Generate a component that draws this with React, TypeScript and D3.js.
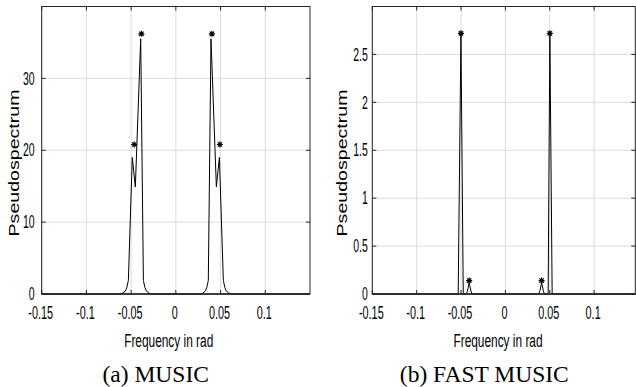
import React from "react";
import * as d3 from "d3";

// ---- data ----
const FREQ_TICKS = [-0.15, -0.1, -0.05, 0, 0.05, 0.1];
const MUSIC_Y_TICKS = [0, 10, 20, 30];
const FAST_Y_TICKS = [0, 0.5, 1, 1.5, 2, 2.5];

const MUSIC_FREQ = [
  -0.15, -0.0624, -0.059, -0.0565, -0.0548, -0.0531, -0.0487, -0.0453, -0.0393, -0.0363, -0.0346, -0.0329, -0.0304, -0.028,
  0.028, 0.0304, 0.0329, 0.0346, 0.0363, 0.0393, 0.0453, 0.0487, 0.0531, 0.0548, 0.0565, 0.059, 0.0624, 0.15,
];
const MUSIC_VALUE = [
  0, 0, 0.15, 0.4, 0.9, 1.9, 19, 14.9, 35.5, 1.9, 0.9, 0.4, 0.15, 0,
  0, 0.15, 0.4, 0.9, 1.9, 35.5, 14.9, 19, 1.9, 0.9, 0.4, 0.15, 0, 0,
];
const MUSIC_PEAK_FREQ = [-0.0466, -0.0385, 0.0403, 0.0492];
const MUSIC_PEAK_VALUE = [20.8, 36.2, 36.2, 20.8];

const FAST_FREQ = [
  -0.15, -0.0532, -0.0501, -0.0475, -0.044, -0.0428, -0.0408, -0.0388, -0.0376,
  0.0376, 0.0388, 0.0408, 0.0428, 0.044, 0.0482, 0.0501, 0.0527, 0.15,
];
const FAST_VALUE = [
  0, 0, 2.71, 0, 0, 0.03, 0.12, 0.03, 0,
  0, 0.03, 0.12, 0.03, 0, 0, 2.71, 0, 0,
];
const FAST_PEAK_FREQ = [-0.0501, -0.0408, 0.0408, 0.0501];
const FAST_PEAK_VALUE = [2.72, 0.14, 0.14, 2.72];

const TICK_FONT = "'Liberation Sans', Arial, Helvetica, sans-serif";
const SERIF = "'Liberation Serif', 'Times New Roman', serif";

type PanelProps = {
  x0: number;
  x1: number;
  xMax: number;
  yMax: number;
  yTicks: number[];
  freq: number[];
  value: number[];
  peakFreq: number[];
  peakValue: number[];
  yLabelGap: number;
  yLabelX: number;
  xLabelX: number;
  caption: string;
  captionX: number;
};

function Panel(p: PanelProps) {
  const top = 6.5;
  const bottom = 294;
  const x = d3.scaleLinear().domain([-0.15, p.xMax]).range([p.x0, p.x1]);
  const y = d3.scaleLinear().domain([0, p.yMax]).range([bottom, top]);
  const pts: [number, number][] = p.freq.map((f, i) => [f, p.value[i]]);
  const line = d3
    .line<[number, number]>()
    .x((d) => x(d[0]))
    .y((d) => y(d[1]));
  const stars = d3.path();
  const r = 3;
  p.peakFreq.forEach((f, i) => {
    const cx = x(f);
    const cy = y(p.peakValue[i]);
    stars.moveTo(cx - r, cy);
    stars.lineTo(cx + r, cy);
    stars.moveTo(cx, cy - r);
    stars.lineTo(cx, cy + r);
    const q = r * 0.72;
    stars.moveTo(cx - q, cy - q);
    stars.lineTo(cx + q, cy + q);
    stars.moveTo(cx - q, cy + q);
    stars.lineTo(cx + q, cy - q);
  });
  const tl = 4;
  const axisColor = "#262626";
  return (
    <g>
      {/* grid */}
      {FREQ_TICKS.map((t) => (
        <line key={"gx" + t} x1={x(t)} x2={x(t)} y1={top} y2={bottom} stroke="#dcdcdc" strokeWidth={1} />
      ))}
      {p.yTicks.map((t) => (
        <line key={"gy" + t} x1={p.x0} x2={p.x1} y1={y(t)} y2={y(t)} stroke="#dcdcdc" strokeWidth={1} />
      ))}
      {/* ticks */}
      {FREQ_TICKS.map((t) => (
        <g key={"tx" + t}>
          <line x1={x(t)} x2={x(t)} y1={bottom} y2={bottom - tl} stroke={axisColor} />
          <line x1={x(t)} x2={x(t)} y1={top} y2={top + tl} stroke={axisColor} />
        </g>
      ))}
      {p.yTicks.map((t) => (
        <g key={"ty" + t}>
          <line x1={p.x0} x2={p.x0 + tl} y1={y(t)} y2={y(t)} stroke={axisColor} />
          <line x1={p.x1} x2={p.x1 - tl} y1={y(t)} y2={y(t)} stroke={axisColor} />
        </g>
      ))}
      {/* curve */}
      <path d={line(pts) || ""} fill="none" stroke="#000" strokeWidth={1} strokeLinejoin="miter" />
      <path d={stars.toString()} fill="none" stroke="#000" strokeWidth={1.2} />
      {/* box */}
      <rect x={p.x0} y={top} width={p.x1 - p.x0} height={bottom - top} fill="none" stroke={axisColor} strokeWidth={1} />
      <line x1={p.x0} x2={p.x1} y1={bottom} y2={bottom} stroke={axisColor} strokeWidth={1.5} />
      {/* tick labels */}
      {FREQ_TICKS.map((t) => (
        <text
          key={"lx" + t}
          transform={`translate(${x(t) - 1},319) scale(0.62,1)`}
          textAnchor="middle"
          fontFamily={TICK_FONT}
          fontSize={17.5}
          fill="#000"
        >
          {String(t)}
        </text>
      ))}
      {p.yTicks.map((t) => (
        <text
          key={"ly" + t}
          transform={`translate(${p.x0 - p.yLabelGap},${y(t) + 6.2}) scale(0.6,1)`}
          textAnchor="end"
          fontFamily={TICK_FONT}
          fontSize={17.5}
          fill="#000"
        >
          {String(t)}
        </text>
      ))}
      {/* axis labels */}
      <text
        transform={`translate(${p.xLabelX},346.5) scale(0.66,1)`}
        textAnchor="middle"
        fontFamily={TICK_FONT}
        fontSize={18}
        fill="#000"
      >
        Frequency in rad
      </text>
      <text
        transform={`translate(${p.yLabelX},163) rotate(-90) scale(1,0.72)`}
        textAnchor="middle"
        fontFamily={TICK_FONT}
        fontSize={19.6}
        fill="#000"
      >
        Pseudospectrum
      </text>
      <text x={p.captionX} y={381.5} textAnchor="middle" fontFamily={SERIF} fontSize={23.5} fill="#000">
        {p.caption}
      </text>
    </g>
  );
}

export default function App() {
  return (
    <svg
      width={636}
      height={387}
      viewBox="0 0 636 387"
      style={{ position: "absolute", left: 0, top: 0, background: "#fff" }}
    >
      <rect width={636} height={387} fill="#fff" />
      <Panel
        x0={41.7}
        x1={310}
        xMax={0.15}
        yMax={40}
        yTicks={MUSIC_Y_TICKS}
        freq={MUSIC_FREQ}
        value={MUSIC_VALUE}
        peakFreq={MUSIC_PEAK_FREQ}
        peakValue={MUSIC_PEAK_VALUE}
        yLabelGap={7}
        yLabelX={18.5}
        xLabelX={168.7}
        caption="(a) MUSIC"
        captionX={155.7}
      />
      <Panel
        x0={372.3}
        x1={635.3}
        xMax={0.1464}
        yMax={3}
        yTicks={FAST_Y_TICKS}
        freq={FAST_FREQ}
        value={FAST_VALUE}
        peakFreq={FAST_PEAK_FREQ}
        peakValue={FAST_PEAK_VALUE}
        yLabelGap={4.5}
        yLabelX={346.5}
        xLabelX={498}
        caption="(b) FAST MUSIC"
        captionX={484.3}
      />
    </svg>
  );
}
